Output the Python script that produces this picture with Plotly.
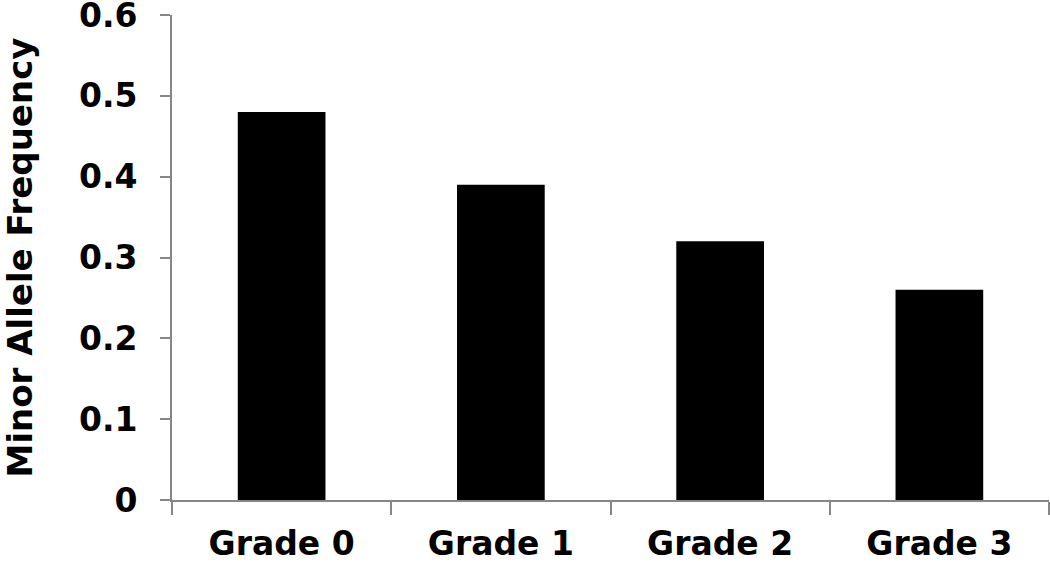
import plotly.graph_objects as go

grades = ["Grade 0", "Grade 1", "Grade 2", "Grade 3"]
freq = [0.48, 0.39, 0.32, 0.26]
yticks = [0, 0.1, 0.2, 0.3, 0.4, 0.5, 0.6]
ytick_text = ["0", "0.1", "0.2", "0.3", "0.4", "0.5", "0.6"]

bold = dict(size=33, family="DejaVu Sans", weight="bold", color="black")

fig = go.Figure()
fig.add_trace(go.Bar(x=grades, y=freq, marker=dict(color="black", line=dict(width=0))))

fig.update_layout(
    width=1050, height=562,
    margin=dict(l=172, r=1, t=15, b=62),
    paper_bgcolor="white", plot_bgcolor="white",
    bargap=0.6, showlegend=False,
)
fig.update_xaxes(
    automargin=False,
    showline=True, linecolor="#868686", linewidth=2,
    ticks="outside", tickson="boundaries", ticklen=13, tickwidth=2, tickcolor="#868686",
    tickfont=bold, ticklabelstandoff=13, ticklabeloverflow="allow",
    showgrid=False, zeroline=False,
)
fig.update_yaxes(
    automargin=False,
    range=[0, 0.6], tickvals=yticks, ticktext=ytick_text,
    showline=True, linecolor="#868686", linewidth=2,
    ticks="outside", ticklen=10, tickwidth=2, tickcolor="#868686",
    tickfont=bold, ticklabelstandoff=16, ticklabeloverflow="allow",
    showgrid=False, zeroline=False,
    title=dict(text="Minor Allele Frequency", standoff=58,
               font=dict(size=34, family="DejaVu Sans", weight="bold", color="black")),
)

# drop the default page margin so the figure sits at the window's corner
fig.write_html("out.html", config={"displayModeBar": False},
               post_script="document.body.style.margin='0';")
